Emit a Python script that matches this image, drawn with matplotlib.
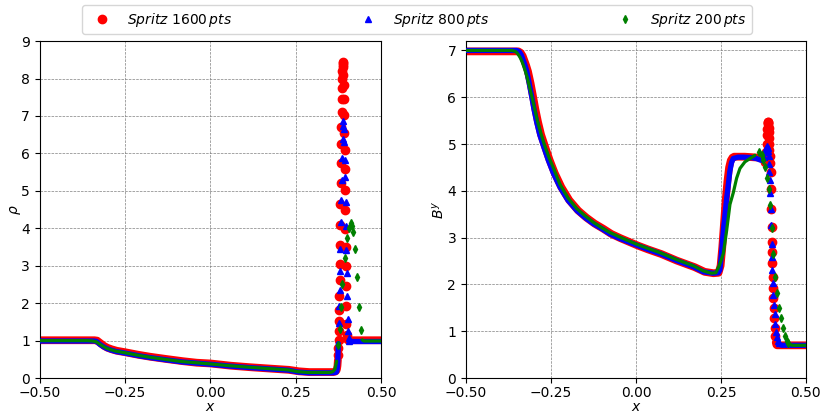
import numpy as np
import matplotlib
matplotlib.use("Agg")
import matplotlib.pyplot as plt

# ---- density, Spritz 1600 pts ----
rho_x_1600 = [-0.500, -0.450, -0.400, -0.360, -0.340, -0.332, -0.322, -0.312, -0.302, -0.290,
              -0.275, -0.250, -0.210, -0.177, -0.130, -0.080, -0.040, 0.000, 0.060, 0.116,
              0.180, 0.230, 0.260, 0.290, 0.320, 0.345, 0.360, 0.3650, 0.3675, 0.3700,
              0.3712, 0.3725, 0.3737, 0.3744, 0.3750, 0.3756, 0.3762, 0.3769, 0.3775, 0.3781,
              0.3787, 0.3794, 0.3800, 0.3806, 0.3812, 0.3819, 0.3825, 0.3831, 0.3837, 0.3844,
              0.3850, 0.3856, 0.3862, 0.3869, 0.3875, 0.3881, 0.3887, 0.3894, 0.3900, 0.3906,
              0.3912, 0.3919, 0.3925, 0.3931, 0.3937, 0.3944, 0.3950, 0.3956, 0.3962, 0.3969,
              0.3975, 0.3981, 0.3987, 0.3994, 0.4000, 0.4006, 0.4012, 0.420, 0.450, 0.480, 0.500]
rho_1600 = [1.01, 1.01, 1.01, 1.01, 1.01, 1.00, 0.93, 0.86, 0.81, 0.77,
            0.73, 0.69, 0.62, 0.57, 0.51, 0.45, 0.41, 0.39, 0.33, 0.29,
            0.25, 0.22, 0.18, 0.16, 0.16, 0.16, 0.16, 0.17, 0.18, 0.21,
            0.25, 0.33, 0.48, 0.62, 0.80, 1.02, 1.25, 1.52, 1.83, 2.20,
            2.62, 3.05, 3.55, 4.10, 4.65, 5.20, 5.75, 6.25, 6.70, 7.10,
            7.45, 7.75, 8.00, 8.20, 8.35, 8.44, 8.42, 8.30, 8.10, 7.82,
            7.45, 7.02, 6.55, 6.08, 5.58, 5.02, 4.50, 3.98, 3.50, 3.00,
            2.45, 1.92, 1.45, 1.15, 1.04, 1.02, 1.01, 1.01, 1.01, 1.01, 1.01]

# ---- density, Spritz 800 pts ----
rho_x_800 = [-0.500, -0.450, -0.400, -0.360, -0.342, -0.334, -0.324, -0.314, -0.304, -0.292,
             -0.277, -0.252, -0.212, -0.179, -0.132, -0.082, -0.042, -0.002, 0.058, 0.114,
             0.178, 0.228, 0.258, 0.288, 0.318, 0.345, 0.360, 0.3650, 0.3675, 0.3700,
             0.3712, 0.3725, 0.3738, 0.3750, 0.3763, 0.3775, 0.3788, 0.3800, 0.3813, 0.3825,
             0.3838, 0.3850, 0.3863, 0.3875, 0.3888, 0.3900, 0.3913, 0.3925, 0.3938, 0.3950,
             0.3963, 0.3975, 0.3988, 0.4000, 0.4013, 0.4025, 0.4038, 0.4050, 0.4063, 0.4075,
             0.420, 0.450, 0.480, 0.500]
rho_800 = [0.99, 0.99, 0.99, 0.99, 0.99, 0.98, 0.90, 0.84, 0.79, 0.75,
           0.71, 0.67, 0.60, 0.55, 0.49, 0.43, 0.40, 0.37, 0.32, 0.28,
           0.24, 0.21, 0.16, 0.14, 0.14, 0.14, 0.14, 0.15, 0.15, 0.17,
           0.22, 0.32, 0.55, 0.92, 1.47, 1.92, 2.35, 2.85, 3.46, 4.17,
           4.75, 5.30, 5.87, 6.38, 6.72, 6.86, 6.64, 6.30, 5.82, 5.36,
           4.70, 4.05, 3.42, 2.80, 2.19, 1.57, 1.26, 1.08, 1.00, 0.98,
           0.98, 0.98, 0.98, 0.98]

# ---- density, Spritz 200 pts ----
rho_x_200 = [-0.500, -0.450, -0.400, -0.360, -0.345, -0.335, -0.325, -0.315, -0.305, -0.293,
             -0.278, -0.253, -0.213, -0.180, -0.133, -0.083, -0.043, -0.003, 0.057, 0.113,
             0.177, 0.227, 0.257, 0.287, 0.317, 0.340, 0.350, 0.355, 0.360, 0.365,
             0.370, 0.375, 0.380, 0.3835, 0.387, 0.394, 0.399, 0.405, 0.411, 0.415,
             0.419, 0.4245, 0.430, 0.4345, 0.4405, 0.445, 0.450, 0.470, 0.500]
rho_200 = [1.00, 1.00, 1.00, 1.00, 0.99, 0.97, 0.91, 0.85, 0.80, 0.76,
           0.72, 0.68, 0.61, 0.56, 0.50, 0.44, 0.41, 0.38, 0.33, 0.29,
           0.25, 0.22, 0.17, 0.15, 0.15, 0.15, 0.15, 0.16, 0.18, 0.24,
           0.45, 0.88, 1.31, 1.90, 2.50, 3.20, 3.73, 4.02, 4.13, 4.05,
           3.91, 3.45, 2.71, 1.91, 1.28, 1.02, 0.99, 0.99, 0.99]

# ---- B^y, Spritz 1600 pts ----
by_x_1600 = [-0.500, -0.450, -0.400, -0.360, -0.346, -0.339, -0.333, -0.328, -0.323, -0.3175,
             -0.310, -0.303, -0.296, -0.288, -0.279, -0.2685, -0.254, -0.239, -0.2195, -0.196,
             -0.170, -0.146, -0.1216, -0.096, -0.0725, -0.046, 0.006, 0.035, 0.0746, 0.120,
             0.1726, 0.202, 0.228, 0.243, 0.249, 0.254, 0.259, 0.264, 0.269, 0.274,
             0.279, 0.284, 0.289, 0.300, 0.320, 0.340, 0.360, 0.372, 0.3800, 0.3812,
             0.3825, 0.3837, 0.3850, 0.3862, 0.3869, 0.3875, 0.3881, 0.3887, 0.3894, 0.3900,
             0.3906, 0.3912, 0.3919, 0.3925, 0.3931, 0.3944, 0.3965, 0.3975, 0.3987, 0.3994,
             0.4000, 0.4006, 0.4012, 0.4019, 0.4031, 0.4044, 0.4056, 0.4069, 0.4081, 0.4094,
             0.4112, 0.4131, 0.4150, 0.450, 0.500]
by_1600 = [6.98, 6.98, 6.98, 6.98, 6.98, 6.95, 6.88, 6.78, 6.68, 6.55,
           6.30, 6.03, 5.75, 5.47, 5.20, 4.97, 4.66, 4.38, 4.08, 3.80,
           3.58, 3.43, 3.30, 3.19, 3.08, 2.99, 2.83, 2.75, 2.65, 2.51,
           2.37, 2.27, 2.24, 2.25, 2.40, 2.80, 3.30, 3.80, 4.20, 4.50,
           4.65, 4.71, 4.73, 4.73, 4.73, 4.72, 4.71, 4.68, 4.62, 4.64,
           4.70, 4.82, 5.00, 5.20, 5.32, 5.42, 5.47, 5.48, 5.44, 5.35,
           5.25, 5.12, 5.00, 4.88, 4.75, 4.60, 4.41, 4.03, 3.61, 3.22,
           2.90, 2.69, 2.45, 2.17, 1.92, 1.71, 1.50, 1.29, 1.08, 0.90,
           0.76, 0.71, 0.70, 0.70, 0.70]

# ---- B^y, Spritz 800 pts ----
by_x_800 = [-0.500, -0.450, -0.400, -0.360, -0.350, -0.343, -0.337, -0.332, -0.327, -0.3215,
            -0.314, -0.307, -0.300, -0.292, -0.283, -0.2725, -0.258, -0.243, -0.2235, -0.200,
            -0.174, -0.150, -0.1256, -0.100, -0.0765, -0.050, 0.002, 0.035, 0.0706, 0.120,
            0.1686, 0.198, 0.227, 0.242, 0.247, 0.252, 0.257, 0.262, 0.267, 0.272,
            0.276, 0.281, 0.286, 0.300, 0.3156, 0.340, 0.355, 0.365, 0.3725, 0.3750,
            0.3775, 0.3800, 0.3825, 0.3850, 0.3875, 0.3888, 0.3900, 0.3913, 0.3925, 0.3938,
            0.3950, 0.3963, 0.3975, 0.3988, 0.4000, 0.4013, 0.4025, 0.4044, 0.4063, 0.4081,
            0.4100, 0.4125, 0.4150, 0.4175, 0.4200, 0.4225, 0.4250, 0.4300, 0.4600, 0.5000]
by_800 = [7.00, 7.00, 7.00, 7.00, 7.00, 6.97, 6.90, 6.80, 6.70, 6.57,
          6.30, 6.03, 5.75, 5.47, 5.20, 4.97, 4.66, 4.38, 4.08, 3.80,
          3.58, 3.43, 3.30, 3.19, 3.08, 2.99, 2.84, 2.75, 2.66, 2.51,
          2.38, 2.27, 2.24, 2.25, 2.31, 2.70, 3.15, 3.50, 3.85, 4.15,
          4.41, 4.60, 4.69, 4.72, 4.72, 4.71, 4.69, 4.66, 4.65, 4.68,
          4.72, 4.82, 4.92, 4.95, 4.92, 4.85, 4.75, 4.58, 4.41, 4.23,
          3.95, 3.61, 3.26, 2.87, 2.58, 2.30, 2.03, 1.78, 1.57, 1.36,
          1.15, 0.98, 0.88, 0.80, 0.75, 0.72, 0.71, 0.70, 0.70, 0.70]

# ---- B^y, Spritz 200 pts ----
by_x_200 = [-0.500, -0.450, -0.400, -0.365, -0.355, -0.350, -0.345, -0.340, -0.335, -0.330,
            -0.325, -0.320, -0.315, -0.310, -0.305, -0.300, -0.295, -0.290, -0.280, -0.270,
            -0.255, -0.240, -0.2235, -0.200, -0.174, -0.150, -0.1256, -0.100, -0.0765, -0.050,
            0.002, 0.035, 0.0706, 0.120, 0.1686, 0.198, 0.222, 0.235, 0.245, 0.257,
            0.2667, 0.2765, 0.2863, 0.2961, 0.306, 0.3206, 0.3353, 0.350, 0.3627, 0.370,
            0.375, 0.380, 0.385, 0.390, 0.395, 0.400, 0.404, 0.409, 0.414, 0.420,
            0.426, 0.432, 0.438, 0.443, 0.448, 0.453, 0.460, 0.480, 0.500]
by_200 = [7.00, 7.00, 7.00, 7.00, 6.98, 6.95, 6.90, 6.84, 6.76, 6.66,
          6.55, 6.43, 6.28, 6.13, 5.98, 5.82, 5.66, 5.50, 5.24, 5.00,
          4.70, 4.44, 4.14, 3.85, 3.62, 3.47, 3.33, 3.21, 3.11, 3.02,
          2.86, 2.77, 2.68, 2.53, 2.40, 2.29, 2.24, 2.25, 2.40, 2.66,
          3.15, 3.71, 3.96, 4.27, 4.48, 4.62, 4.69, 4.76, 4.83, 4.76,
          4.65, 4.50, 4.27, 4.05, 3.70, 3.20, 2.66, 2.17, 1.82, 1.50,
          1.29, 1.08, 0.90, 0.80, 0.75, 0.72, 0.70, 0.70, 0.70]

labels = [r"$Spritz\ 1600\,pts$", r"$Spritz\ 800\,pts$", r"$Spritz\ 200\,pts$"]
colors = ["red", "blue", "green"]
markers = ["o", "^", "d"]
msizes = [6, 4.5, 3.8]
lwidths = [5.6, 3.8, 2.3]

# x-ranges where the single markers are visible (outside: dense band)
rho_windows = [(0.374, 0.400), (0.375, 0.407), (0.370, 0.445)]
by_windows = [(0.379, 0.411), (0.375, 0.422), (0.360, 0.450)]


def draw_series(ax, x, y, i, window):
    x = np.asarray(x)
    y = np.asarray(y)
    lo, hi = window
    left = x <= lo
    right = x >= hi
    for m in (left, right):
        ax.plot(x[m], y[m], "-", color=colors[i], lw=lwidths[i],
                solid_capstyle="round", solid_joinstyle="round", zorder=2 + i)
    spike = ~(left | right)
    h, = ax.plot(x[spike], y[spike], ls="none", marker=markers[i], ms=msizes[i],
                 color=colors[i], label=labels[i], zorder=2 + i)
    return h


fig = plt.figure(figsize=(8.3, 4.15), dpi=100)
ax1 = fig.add_axes([0.048, 0.089, 0.411, 0.812])
ax2 = fig.add_axes([0.5614, 0.089, 0.4096, 0.812])

rho_data = [(rho_x_1600, rho_1600), (rho_x_800, rho_800), (rho_x_200, rho_200)]
by_data = [(by_x_1600, by_1600), (by_x_800, by_800), (by_x_200, by_200)]

handles = []
for i in range(3):
    handles.append(draw_series(ax1, *rho_data[i], i, rho_windows[i]))
    draw_series(ax2, *by_data[i], i, by_windows[i])

xticks = [-0.5, -0.25, 0.0, 0.25, 0.5]
for ax in (ax1, ax2):
    ax.set_xlim(-0.5, 0.5)
    ax.set_xticks(xticks)
    ax.tick_params(axis="x", pad=2.5)
    ax.set_xlabel(r"$x$", labelpad=0)
    ax.grid(True, color="grey", linestyle="--", linewidth=0.5)
    ax.set_axisbelow(True)

ax1.set_ylim(0, 9)
ax1.set_yticks(range(0, 10))
ax1.set_ylabel(r"$\rho$", labelpad=-1)
ax2.set_ylim(0, 7.2)
ax2.set_yticks(range(0, 8))
ax2.set_ylabel(r"$B^y$", labelpad=0.5)

fig.legend(handles=handles, loc="upper left", ncol=3, mode="expand",
           bbox_to_anchor=(0.099, 0.988, 0.807, 0.0), borderaxespad=0)

fig.savefig("out.png", dpi=100)
